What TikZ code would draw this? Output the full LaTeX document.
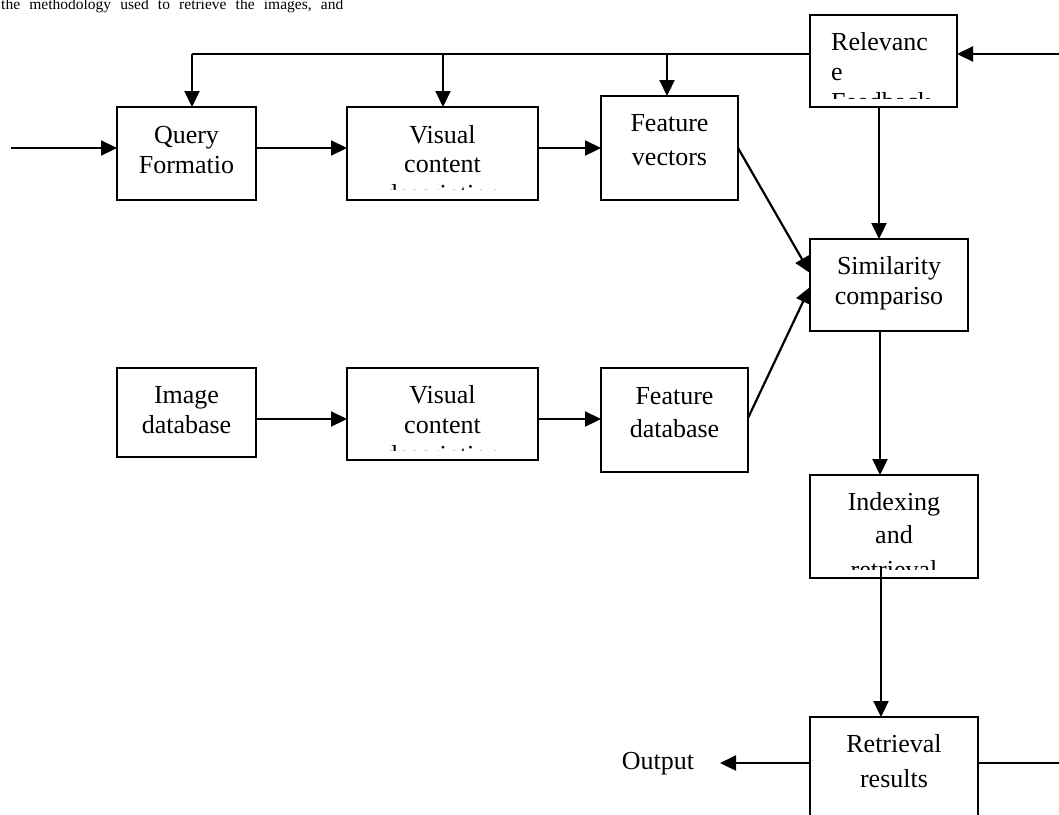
\documentclass[tikz,border=0pt]{standalone}
\usepackage{fontspec}
\setmainfont{Liberation Serif}
\usetikzlibrary{arrows.meta}
\begin{document}
\begin{tikzpicture}[x=1pt,y=-1pt,
  blk/.style={draw,line width=1.8pt,inner sep=0pt,outer sep=0pt},
  txt/.style={anchor=base,inner sep=0pt,font=\fontsize{26}{30}\selectfont},
  ln/.style={line width=2.2pt},
  arr/.style={ln,-{Triangle[length=16pt,width=15pt]}}]
\useasboundingbox (0,0) rectangle (1059,814);
\clip (0,0) rectangle (1059,814);
\fill[white] (0,0) rectangle (1059,814);

% intro text (cut at the top)
\node[anchor=base west,inner sep=0pt,font=\fontsize{15.5}{18}\selectfont] (intro) at (1,9.5)
  {\spaceskip=9.2pt the methodology used to retrieve the images, and};

% boxes
\node[blk,minimum width=139pt,minimum height=93pt] (q)   at (186.5,153.5) {};
\node[blk,minimum width=191pt,minimum height=93pt] (vc1) at (442.5,153.5) {};
\node[blk,minimum width=137pt,minimum height=104pt] (fv) at (669.5,148) {};
\node[blk,minimum width=147pt,minimum height=92pt] (rel) at (883.5,61) {};
\node[blk,minimum width=158pt,minimum height=92pt] (sim) at (889,285) {};
\node[blk,minimum width=168pt,minimum height=103pt] (idx) at (894,526.5) {};
\node[blk,minimum width=168pt,minimum height=123pt] (ret) at (894,778.5) {};
\node[blk,minimum width=139pt,minimum height=89pt] (img) at (186.5,412.5) {};
\node[blk,minimum width=191pt,minimum height=92pt] (vc2) at (442.5,414) {};
\node[blk,minimum width=147pt,minimum height=104pt] (fd) at (674.5,420) {};

% texts
\node[txt] (q1) at (186.5,143) {Query};
\node[txt] (q2) at (186.5,173) {Formatio};
\node[txt] (vc1a) at (442.5,143) {Visual};
\node[txt] (vc1b) at (442.5,172) {content};
\begin{scope}
  \clip (347,107) rectangle (538,189);
  \node[txt] (vc1c) at (442.5,202) {description};
\end{scope}
\node[txt] (fv1) at (669.5,131) {Feature};
\node[txt] (fv2) at (669.5,165) {vectors};
\node[txt,anchor=base west] (rel1) at (831,50) {Relevanc};
\node[txt,anchor=base west] (rel2) at (831,80) {e};
\begin{scope}
  \clip (810,15) rectangle (957,98.5);
  \node[txt,anchor=base west] (rel3) at (831,110) {Feedback};
\end{scope}
\node[txt] (sim1) at (889,274) {Similarity};
\node[txt] (sim2) at (889,304) {compariso};
\node[txt] (idx1) at (894,510) {Indexing};
\node[txt] (idx2) at (894,543) {and};
\begin{scope}
  \clip (810,475) rectangle (978,569);
  \node[txt] (idx3) at (894,578) {retrieval};
\end{scope}
\node[txt] (ret1) at (894,752) {Retrieval};
\node[txt] (ret2) at (894,787) {results};
\node[txt] (img1) at (186.5,403) {Image};
\node[txt] (img2) at (186.5,433) {database};
\node[txt] (vc2a) at (442.5,403) {Visual};
\node[txt] (vc2b) at (442.5,433) {content};
\begin{scope}
  \clip (347,368) rectangle (538,450);
  \node[txt] (vc2c) at (442.5,463) {description};
\end{scope}
\node[txt] (fd1) at (674.5,404) {Feature};
\node[txt] (fd2) at (674.5,437) {database};
\node[txt] (outp) at (658,769) {Output};

% coordinates for free ends
\coordinate (lin) at (11,148);
\coordinate (rin) at (1059,54);
\coordinate (fbq) at (192,54);
\coordinate (fbv) at (443,54);
\coordinate (fbf) at (667,54);
\coordinate (otip) at (720,763);
\coordinate (rend) at (1059,763);

% connectors
\draw[arr] (lin) -- (lin -| q.west);
\draw[arr] ([yshift=5.5pt]q.east) coordinate (a0) -- (a0 -| vc1.west);
\draw[arr] ([yshift=5.5pt]vc1.east) coordinate (a1) -- (a1 -| fv.west);
\draw[arr] (fv.east) -- ([yshift=12pt]sim.west);
\draw[arr] ([yshift=2pt]fd.east) -- ([yshift=-2pt]sim.west);

\draw[ln] (fbq -| rel.west) -- (fbq);
\draw[arr] (fbq) -- (fbq |- q.north);
\draw[arr] (fbv) -- (fbv |- vc1.north);
\draw[arr] (fbf) -- (fbf |- fv.north);
\draw[arr] (rin) -- (rin -| rel.east);

\draw[arr] ([xshift=-4.5pt]rel.south) coordinate (a2) -- (a2 |- sim.north);
\draw[arr] ([xshift=-9pt]sim.south) coordinate (a3) -- (a3 |- idx.north);
\draw[arr] ([xshift=-13pt,yshift=9pt]idx.south) coordinate (a4) -- (a4 |- ret.north);
\draw[arr] (ret.west |- otip) -- (otip);
\draw[ln] (ret.east |- rend) -- (rend);

\draw[arr] ([yshift=-6.5pt]img.east) coordinate (a5) -- (a5 -| vc2.west);
\draw[arr] ([yshift=-5pt]vc2.east) coordinate (a6) -- (a6 -| fd.west);
\end{tikzpicture}
\end{document}
